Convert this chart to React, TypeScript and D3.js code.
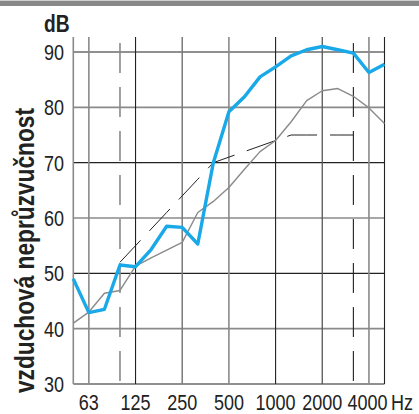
import React from "react";
import * as d3 from "d3";

const bands = ["50","63","80","100","125","160","200","250","315","400","500","630","800","1000","1250","1600","2000","2500","3150","4000","5000"];
const measured = [49.0,42.9,43.5,51.5,51.2,54.3,58.5,58.3,55.3,70.0,79.2,81.9,85.5,87.3,89.3,90.4,91.0,90.4,89.8,86.3,87.8];
const comparison = [41.0,43.0,46.4,46.9,51.3,52.8,54.2,55.6,61.0,63.0,65.5,68.8,72.0,74.0,77.4,81.2,83.0,83.4,82.0,79.9,77.1];
const refBands = ["100","125","160","200","250","315","400","500","630","800","1000","1250","1600","2000","2500","3150"];
const refValues = [52,55,58,61,64,67,70,71,72,73,74,75,75,75,75,75];
const yTicks = [30,40,50,60,70,80,90];
const xLabels = ["63","125","250","500","1000","2000","4000"];
const gridV = [
  { f: "50", c: "#8a8a8a", w: 1.6 },
  { f: "63", c: "#8a8a8a", w: 1.6 },
  { f: "125", c: "#222", w: 1.1 },
  { f: "250", c: "#7a7a7a", w: 1.5 },
  { f: "500", c: "#8a8a8a", w: 1.6 },
  { f: "1000", c: "#222", w: 1.1 },
  { f: "2000", c: "#555", w: 1.3 },
  { f: "4000", c: "#8a8a8a", w: 1.6 },
  { f: "5000", c: "#222", w: 1.1 },
];
const dashedV = ["100", "3150"];

const FONT = "'Liberation Sans', Arial, sans-serif";
const SX = 0.8;

function NText(props: { x: number; y: number; anchor?: "start" | "middle" | "end"; size: number; bold?: boolean; dy?: string; children: React.ReactNode }) {
  return (
    <text transform={`translate(${props.x},${props.y}) scale(${SX},1)`} dy={props.dy}
      textAnchor={props.anchor || "start"} fontFamily={FONT} fontSize={props.size}
      fontWeight={props.bold ? "bold" : "normal"} fill="#222">{props.children}</text>
  );
}

export default function App() {
  const x = d3.scalePoint<string>().domain(bands).range([73.3, 384.5]);
  const y = d3.scaleLinear().domain([30, 90]).range([384, 52]);
  const line = d3.line<[string, number]>().x(d => x(d[0])!).y(d => y(d[1]));
  const blue = line(bands.map((b, i) => [b, measured[i]]))!;
  const gray = line(bands.map((b, i) => [b, comparison[i]]))!;
  const ref = line(refBands.map((b, i) => [b, refValues[i]]))!;
  const x0 = x("50")!, x1 = x("5000")!;
  return (
    <svg width={419} height={414} style={{ position: "absolute", left: 0, top: 0, background: "#fff" }}>
      <rect x={0} y={0} width={419} height={1} fill="#cfcfcf" />
      <rect x={0} y={1} width={419} height={5} fill="#888" />
      {yTicks.map((t, i) => (
        <line key={t} x1={x0} x2={x1} y1={y(t)} y2={y(t)}
          stroke={i % 2 === 0 ? "#222" : "#8a8a8a"} strokeWidth={i % 2 === 0 ? 1.1 : 1.6} />
      ))}
      {gridV.map(g => (
        <line key={g.f} x1={x(g.f)} x2={x(g.f)} y1={37} y2={y(30)} stroke={g.c} strokeWidth={g.w} />
      ))}
      {dashedV.map((f, i) => (
        <line key={f} x1={x(f)} x2={x(f)} y1={43} y2={y(30)} stroke={i === 0 ? "#8a8a8a" : "#222"}
          strokeWidth={i === 0 ? 1.6 : 1.1} strokeDasharray="30,14" />
      ))}
      <path d={ref} fill="none" stroke="#222" strokeWidth={1} strokeDasharray="30,13" />
      <path d={gray} fill="none" stroke="#8a8a8a" strokeWidth={1.4} strokeLinejoin="round" />
      <path d={blue} fill="none" stroke="#19a8e8" strokeWidth={3.4} strokeLinejoin="round" />
      {yTicks.map(t => (
        <NText key={t} x={64} y={y(t)} dy="0.36em" anchor="end" size={22.5}>{t}</NText>
      ))}
      {xLabels.map(l => (
        <NText key={l} x={l === "4000" ? x(l)! - 1.5 : x(l)!} y={410} anchor="middle" size={22.5}>{l}</NText>
      ))}
      <NText x={391} y={410} size={22.5}>Hz</NText>
      <NText x={44} y={32} size={24} bold>dB</NText>
      <text transform="translate(34,393) rotate(-90)" x={0} y={0} fontFamily={FONT} fontSize={27} fontWeight="bold"
        fill="#222" textLength={285} lengthAdjust="spacingAndGlyphs">vzduchová neprůzvučnost</text>
    </svg>
  );
}
